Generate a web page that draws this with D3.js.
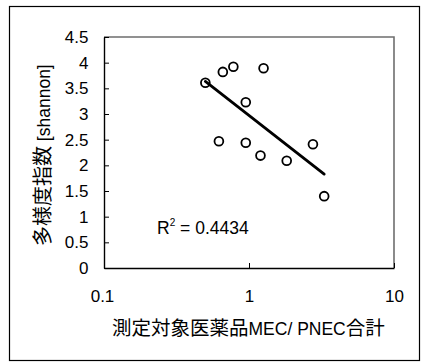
<!DOCTYPE html>
<html>
<head>
<meta charset="utf-8">
<script src="https://cdn.jsdelivr.net/npm/d3@7"></script>
<style>
  html, body { margin: 0; padding: 0; background: #fff; }
  svg { display: block; }
  text { font-family: "Liberation Sans", Arial, sans-serif; fill: #000; }
</style>
</head>
<body>
<svg id="chart" width="422" height="363"></svg>
<script>
// ---- data ----
const mecPnec = [0.50, 0.66, 0.78, 1.26, 0.95, 0.62, 0.95, 1.20, 1.82, 2.76, 3.30];
const shannon = [3.61, 3.82, 3.92, 3.89, 3.23, 2.47, 2.44, 2.19, 2.09, 2.41, 1.40];
const xTicks = [0.1, 1, 10];
const yTicks = [0, 0.5, 1, 1.5, 2, 2.5, 3, 3.5, 4, 4.5];
const r2Label = "0.4434";
// title parts: [text, isCJK]
const xTitleParts = [["測定対象医薬品", true], ["MEC/ PNEC", false], ["合計", true]];
const yTitleParts = [["多様度指数", true], [" [shannon]", false]];

// ---- layout ----
const plot = { left: 104, right: 394, top: 37, bottom: 268 };
const svg = d3.select("#chart");
const LAT = "Liberation Sans, Arial, sans-serif";
const CJK = "Noto Sans CJK JP, sans-serif";

// outer border
svg.append("rect").attr("x", 9.5).attr("y", 6.5).attr("width", 410).attr("height", 354)
  .attr("fill", "#fff").attr("stroke", "#000").attr("stroke-width", 1.2);

const x = d3.scaleLog().domain([0.1, 10]).range([plot.left, plot.right]);
const y = d3.scaleLinear().domain([0, 4.5]).range([plot.bottom, plot.top]);

// plot frame top/right (gray)
svg.append("path")
  .attr("d", `M${plot.left},${plot.top}H${plot.right}V${plot.bottom}`)
  .attr("fill", "none").attr("stroke", "#6e6e6e").attr("stroke-width", 1.6);

// y axis
const yAxis = d3.axisLeft(y).tickValues(yTicks).tickSizeInner(-5).tickSizeOuter(0)
  .tickFormat(d3.format("~g"));
const gy = svg.append("g").attr("transform", `translate(${plot.left},0)`).call(yAxis);
gy.select(".domain").attr("stroke", "#000").attr("stroke-width", 1.4);
gy.selectAll(".tick line").attr("stroke", "#000");
gy.selectAll(".tick text").attr("font-size", 17).attr("font-family", LAT).attr("x", -15.5);

// x axis
const xAxis = d3.axisBottom(x).tickValues(xTicks).tickSizeInner(-5).tickSizeOuter(0)
  .tickFormat(d3.format("~g"));
const gx = svg.append("g").attr("transform", `translate(0,${plot.bottom})`).call(xAxis);
gx.select(".domain").attr("stroke", "#000").attr("stroke-width", 1.4);
gx.selectAll(".tick line").attr("stroke", "#000");
gx.selectAll(".tick text").attr("font-size", 17).attr("font-family", LAT)
  .attr("y", 22).attr("dy", "0.71em");
gx.selectAll(".tick text").filter(d => d === 0.1).attr("dx", -2);

// regression (y on log10 x), over the data range
const lx = mecPnec.map(v => Math.log10(v));
const mx = d3.mean(lx), my = d3.mean(shannon);
const slope = d3.sum(lx, (v, i) => (v - mx) * (shannon[i] - my)) / d3.sum(lx, v => (v - mx) ** 2);
const icpt = my - slope * mx;
const [xmin, xmax] = d3.extent(mecPnec);
const trend = [xmin, xmax].map(v => [v, icpt + slope * Math.log10(v)]);
svg.append("path")
  .attr("d", d3.line().x(d => x(d[0])).y(d => y(d[1]))(trend))
  .attr("fill", "none").attr("stroke", "#000").attr("stroke-width", 2.8).attr("stroke-linecap", "round");

// points
svg.append("g").selectAll("circle").data(mecPnec).join("circle")
  .attr("cx", d => x(d)).attr("cy", (d, i) => y(shannon[i])).attr("r", 4.4)
  .attr("fill", "none").attr("stroke", "#000").attr("stroke-width", 1.8);

// R^2 label
const rt = svg.append("text").attr("x", 157).attr("y", 234).attr("font-size", 17.5);
rt.append("tspan").text("R");
rt.append("tspan").attr("font-size", 10).attr("dy", -8).text("2");
rt.append("tspan").attr("dy", 8).text(" = " + r2Label);

// axis titles
const xt = svg.append("text").attr("x", 112).attr("y", 335);
xt.selectAll("tspan").data(xTitleParts).join("tspan")
  .attr("font-family", d => d[1] ? CJK : LAT)
  .attr("font-size", d => d[1] ? 19.5 : 17.5)
  .text(d => d[0]);

const yt = svg.append("text").attr("transform", "translate(50,246) rotate(-90)");
yt.selectAll("tspan").data(yTitleParts).join("tspan")
  .attr("font-family", d => d[1] ? CJK : LAT)
  .attr("font-size", d => d[1] ? 20 : 17.5)
  .text(d => d[0]);
</script>
</body>
</html>
